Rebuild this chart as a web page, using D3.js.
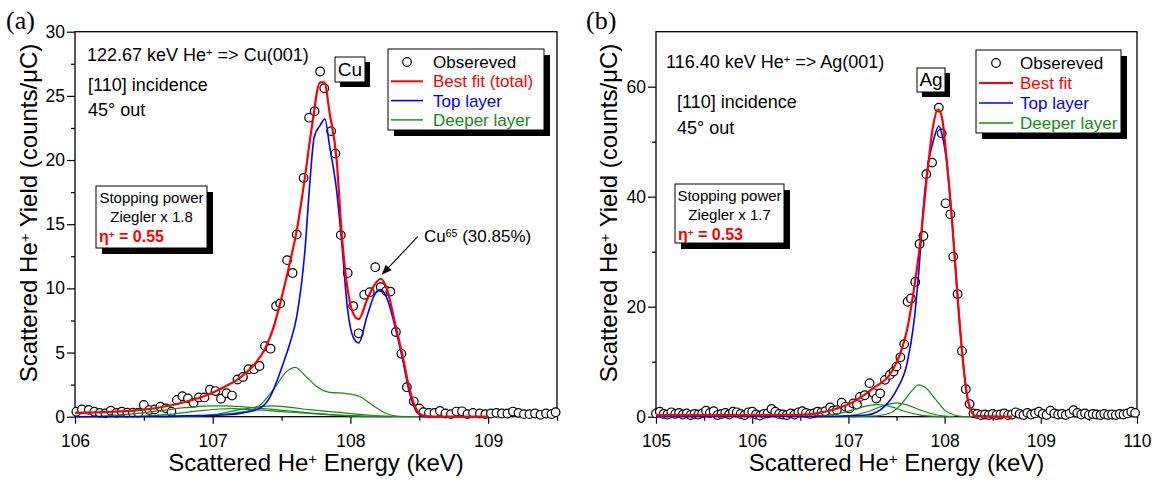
<!DOCTYPE html>
<html>
<head>
<meta charset="utf-8">
<script src="https://cdn.jsdelivr.net/npm/d3@7"></script>
<style>
    body { margin: 0; background: #fff; }
    svg text { font-family: "Liberation Sans", Arial, sans-serif; }
</style>
</head>
<body>
<div id="chart"></div>
<script>
// ---- (a) Cu(001) ----
const cuXTicks = [106, 107, 108, 109];
const cuXMinor = [106.5, 107.5, 108.5, 109.5];
const cuYTicks = [0, 5, 10, 15, 20, 25, 30];
const cuYMinor = [2.5, 7.5, 12.5, 17.5, 22.5, 27.5];

const cuObserved = [
    [106.01, 0.39], [106.05, 0.57], [106.10, 0.53], [106.14, 0.39], [106.18, 0.30], [106.22, 0.26],
    [106.26, 0.47], [106.30, 0.30], [106.34, 0.39], [106.38, 0.31], [106.42, 0.31], [106.46, 0.31],
    [106.50, 0.91], [106.54, 0.52], [106.58, 0.57], [106.62, 0.78], [106.66, 0.65], [106.70, 0.39],
    [106.74, 1.30], [106.78, 1.60], [106.82, 1.43], [106.86, 1.08], [106.90, 1.50], [106.94, 1.50],
    [106.98, 2.10], [107.02, 2.00], [107.06, 1.40], [107.10, 1.83], [107.14, 1.65], [107.18, 2.90],
    [107.22, 3.10], [107.26, 3.70], [107.30, 3.70], [107.34, 3.95], [107.38, 5.50], [107.42, 5.30],
    [107.46, 8.62], [107.49, 8.83], [107.54, 12.2], [107.58, 11.2], [107.61, 14.2], [107.66, 18.6],
    [107.70, 23.3], [107.74, 23.8], [107.78, 26.9], [107.81, 25.6], [107.86, 22.25], [107.89, 20.5],
    [107.93, 14.15], [107.98, 11.2], [108.02, 8.62], [108.06, 6.5], [108.10, 9.5], [108.14, 9.7],
    [108.18, 11.65], [108.22, 10.1], [108.26, 9.8], [108.29, 9.75], [108.33, 6.6], [108.37, 4.9],
    [108.41, 2.3], [108.46, 1.2], [108.50, 0.65], [108.53, 0.35], [108.57, 0.30], [108.61, 0.30],
    [108.65, 0.45], [108.69, 0.25], [108.73, 0.20], [108.77, 0.40], [108.81, 0.42], [108.85, 0.20],
    [108.89, 0.30], [108.94, 0.25], [108.98, 0.20], [109.02, 0.25], [109.06, 0.30], [109.10, 0.25],
    [109.14, 0.25], [109.18, 0.40], [109.22, 0.30], [109.26, 0.20], [109.30, 0.20], [109.34, 0.25],
    [109.38, 0.15], [109.42, 0.25], [109.46, 0.20], [109.49, 0.35]
];

const cuTotal = [
    [106.0, 0.3], [106.2, 0.35], [106.4, 0.45], [106.6, 0.7], [106.8, 1.15], [106.95, 1.65],
    [107.08, 2.3], [107.2, 3.05], [107.32, 4.3], [107.38, 5.3], [107.44, 6.9], [107.49, 8.85],
    [107.56, 12.0], [107.61, 14.5], [107.67, 18.7], [107.72, 22.6], [107.78, 26.05], [107.81, 26.05],
    [107.85, 23.6], [107.90, 20.0], [107.935, 14.5], [107.98, 9.9], [108.02, 8.05], [108.06, 7.6],
    [108.12, 9.1], [108.17, 10.2], [108.22, 10.75], [108.26, 10.1], [108.33, 7.0], [108.38, 4.7],
    [108.43, 2.1], [108.48, 0.55], [108.53, 0.08], [108.6, 0.0], [109.0, 0.0]
];

const cuTop = [
    [106.0, 0.0], [106.6, 0.02], [106.9, 0.08], [107.1, 0.15], [107.22, 0.3], [107.32, 0.55],
    [107.415, 1.5], [107.46, 2.6], [107.50, 3.8], [107.56, 5.7], [107.61, 7.8], [107.67, 13.0],
    [107.705, 18.2], [107.737, 21.8], [107.78, 22.7], [107.814, 23.2], [107.85, 21.0], [107.90, 17.6],
    [107.935, 13.8], [107.98, 8.3], [108.02, 6.2], [108.06, 5.75], [108.12, 7.8], [108.18, 9.6],
    [108.22, 9.9], [108.26, 9.35], [108.33, 6.75], [108.38, 4.4], [108.43, 1.8], [108.48, 0.4],
    [108.53, 0.0], [109.0, 0.0]
];

const cuDeeper = [
    [[106.6, 0.0], [106.8, 0.03], [107.0, 0.12], [107.2, 0.35], [107.32, 0.7], [107.44, 2.1],
     [107.54, 3.55], [107.60, 3.85], [107.68, 3.1], [107.75, 2.4], [107.85, 1.9], [107.97, 1.8],
     [108.07, 1.55], [108.16, 0.9], [108.26, 0.25], [108.35, 0.03], [108.5, 0.0]],
    [[106.0, 0.0], [106.2, 0.05], [106.4, 0.2], [106.6, 0.45], [106.8, 0.7], [107.0, 0.85],
     [107.1, 0.84], [107.3, 0.7], [107.5, 0.5], [107.7, 0.3], [107.9, 0.12], [108.1, 0.03], [108.3, 0.0]],
    [[106.3, 0.0], [106.5, 0.05], [106.7, 0.2], [106.9, 0.45], [107.05, 0.6], [107.15, 0.63],
     [107.3, 0.55], [107.5, 0.4], [107.7, 0.25], [107.9, 0.12], [108.1, 0.04], [108.3, 0.0]],
    [[106.6, 0.0], [106.8, 0.02], [107.0, 0.15], [107.2, 0.55], [107.35, 0.8], [107.42, 0.85],
     [107.55, 0.75], [107.7, 0.55], [107.9, 0.35], [108.1, 0.15], [108.3, 0.03], [108.45, 0.0]]
];

// ---- (b) Ag(001) ----
const agXTicks = [105, 106, 107, 108, 109, 110];
const agXMinor = [105.5, 106.5, 107.5, 108.5, 109.5];
const agYTicks = [0, 20, 40, 60];
const agYMinor = [10, 30, 50];

const agObserved = [
    [105.00, 0.6], [105.04, 0.9], [105.08, 0.5], [105.12, 0.4], [105.16, 0.8], [105.20, 0.5],
    [105.24, 0.7], [105.28, 0.4], [105.32, 0.6], [105.36, 0.3], [105.40, 0.5], [105.44, 0.4],
    [105.48, 0.6], [105.52, 1.1], [105.56, 0.7], [105.60, 1.0], [105.64, 0.3], [105.68, 0.5],
    [105.72, 0.7], [105.76, 0.4], [105.80, 0.9], [105.84, 0.8], [105.88, 0.5], [105.92, 0.3],
    [105.96, 0.8], [106.00, 0.9], [106.04, 0.4], [106.08, 0.2], [106.12, 0.5], [106.16, 0.6],
    [106.20, 1.4], [106.24, 0.9], [106.28, 0.5], [106.32, 0.4], [106.36, 0.3], [106.40, 0.6],
    [106.44, 0.4], [106.48, 0.8], [106.52, 1.0], [106.56, 0.7], [106.60, 0.5], [106.64, 0.6],
    [106.68, 0.9], [106.72, 0.8], [106.76, 1.0], [106.81, 1.7], [106.84, 1.1], [106.88, 1.2],
    [106.93, 2.55], [106.97, 1.8], [107.01, 1.5], [107.05, 2.4], [107.09, 2.2], [107.12, 3.6],
    [107.17, 3.9], [107.22, 6.1], [107.26, 4.3], [107.29, 3.3], [107.33, 4.25], [107.38, 6.7],
    [107.43, 7.6], [107.47, 8.2], [107.50, 9.1], [107.54, 10.8], [107.58, 13.2], [107.615, 20.9],
    [107.65, 21.5], [107.695, 24.5], [107.74, 31.4], [107.78, 32.85], [107.81, 44.1], [107.87, 46.2],
    [107.94, 56.2], [107.97, 51.5], [108.01, 38.8], [108.06, 36.8], [108.09, 29.1], [108.135, 22.3],
    [108.18, 11.95], [108.22, 5.0], [108.26, 2.3], [108.30, 0.6], [108.34, 0.5], [108.38, 0.3],
    [108.42, 0.4], [108.46, 0.3], [108.50, 0.5], [108.54, 0.3], [108.58, 0.4], [108.62, 0.6],
    [108.66, 0.3], [108.70, 0.4], [108.74, 0.8], [108.78, 0.5], [108.82, 0.3], [108.86, 0.7],
    [108.90, 0.4], [108.94, 0.6], [108.98, 0.9], [109.02, 0.5], [109.06, 0.3], [109.10, 1.1],
    [109.14, 0.6], [109.18, 0.4], [109.22, 0.5], [109.26, 0.3], [109.30, 0.6], [109.34, 1.2],
    [109.38, 0.7], [109.42, 0.4], [109.46, 0.6], [109.50, 0.3], [109.54, 0.5], [109.58, 0.4],
    [109.62, 0.3], [109.66, 0.5], [109.70, 0.3], [109.74, 0.4], [109.78, 0.3], [109.82, 0.5],
    [109.86, 0.4], [109.90, 0.6], [109.94, 0.9], [109.98, 0.7]
];

const agTotal = [
    [105.0, 0.3], [106.0, 0.3], [106.5, 0.35], [106.7, 0.7], [106.85, 1.3], [107.05, 2.7],
    [107.26, 5.2], [107.44, 7.9], [107.54, 11.5], [107.61, 15.8], [107.68, 23.0], [107.75, 32.1],
    [107.82, 44.3], [107.885, 53.3], [107.93, 55.9], [107.97, 54.6], [108.02, 47.0], [108.08, 35.0],
    [108.13, 23.0], [108.18, 12.1], [108.23, 4.2], [108.28, 0.9], [108.33, 0.1], [108.7, 0.0]
];

const agTop = [
    [105.0, 0.0], [106.8, 0.05], [107.0, 0.15], [107.19, 0.3], [107.3, 0.9], [107.37, 1.8],
    [107.5, 4.85], [107.61, 9.7], [107.68, 17.0], [107.73, 26.0], [107.78, 38.2], [107.83, 46.0],
    [107.885, 50.3], [107.94, 52.85], [107.97, 51.5], [108.02, 46.5], [108.08, 35.0], [108.13, 23.0],
    [108.18, 12.1], [108.23, 4.2], [108.28, 0.9], [108.33, 0.1], [108.6, 0.0]
];

const agDeeper = [
    [[106.9, 0.0], [107.3, 0.15], [107.45, 0.8], [107.55, 2.3], [107.65, 4.5], [107.73, 5.8],
     [107.8, 5.3], [107.9, 3.3], [108.0, 1.2], [108.1, 0.3], [108.2, 0.02], [108.3, 0.0]],
    [[106.4, 0.0], [106.8, 0.05], [107.0, 0.2], [107.2, 0.9], [107.35, 1.9], [107.5, 2.5],
     [107.6, 2.2], [107.75, 1.2], [107.9, 0.4], [108.0, 0.1], [108.1, 0.0]],
    [[105.7, 0.0], [106.5, 0.05], [106.8, 0.3], [107.0, 1.0], [107.15, 1.8], [107.3, 2.2],
     [107.45, 1.8], [107.6, 0.9], [107.75, 0.3], [107.9, 0.05], [108.0, 0.0]]
];

const width = 1160;
const height = 483;

const svg = d3.select("#chart")
    .append("svg")
    .attr("width", width)
    .attr("height", height);

// text with superscript parts: parts = [[text, isSup], ...]
function richText(sel, parts) {
    parts.forEach(([t, sup], i) => {
        const ts = sel.append("tspan").text(t);
        if (sup) ts.attr("dy", "-0.45em").attr("font-size", "0.62em");
        else if (i > 0 && parts[i - 1][1]) ts.attr("dy", "0.28em");
    });
    return sel;
}

function boxWithShadow(g, x, y, w, h, off) {
    g.append("rect").attr("x", x + off).attr("y", y + off).attr("width", w).attr("height", h).attr("fill", "#000");
    g.append("rect").attr("x", x).attr("y", y).attr("width", w).attr("height", h)
        .attr("fill", "#fff").attr("stroke", "#000").attr("stroke-width", 1);
}

function drawPanel(p) {
    const x = d3.scaleLinear().domain(p.xDomain).range([p.left, p.right]);
    const y = d3.scaleLinear().domain(p.yDomain).range([p.bottom, p.top]);
    const g = svg.append("g");

    // panel letter
    g.append("text").attr("x", p.letterX).attr("y", 29)
        .style("font-family", "'Liberation Serif', 'Times New Roman', serif")
        .attr("font-size", 26).text(p.letter);

    // minor ticks
    g.append("g").attr("transform", `translate(0,${p.bottom})`)
        .call(d3.axisBottom(x).tickValues(p.xMinor).tickSize(4).tickFormat(""))
        .call(s => s.select(".domain").remove());
    g.append("g").attr("transform", `translate(${p.left},0)`)
        .call(d3.axisLeft(y).tickValues(p.yMinor).tickSize(4).tickFormat(""))
        .call(s => s.select(".domain").remove());

    // major ticks
    const xa = g.append("g").attr("transform", `translate(0,${p.bottom})`)
        .call(d3.axisBottom(x).tickValues(p.xTicks).tickSize(7).tickPadding(11).tickFormat(d3.format("d")));
    const ya = g.append("g").attr("transform", `translate(${p.left},0)`)
        .call(d3.axisLeft(y).tickValues(p.yTicks).tickSize(8).tickPadding(2).tickFormat(d3.format("d")));
    [xa, ya].forEach(a => {
        a.select(".domain").remove();
        a.selectAll("text").attr("font-size", 17.5).attr("fill", "#000")
            .style("font-family", "'Liberation Sans', Arial, sans-serif");
    });
    g.selectAll(".tick line").attr("stroke", "#000").attr("stroke-width", 1.2);

    // frame
    g.append("rect")
        .attr("x", p.left).attr("y", p.top)
        .attr("width", p.right - p.left).attr("height", p.bottom - p.top)
        .attr("fill", "none").attr("stroke", "#000").attr("stroke-width", 1.3);

    // axis titles
    richText(g.append("text")
        .attr("x", (p.left + p.right) / 2).attr("y", 471)
        .attr("text-anchor", "middle").attr("font-size", 24),
        [["Scattered He", false], ["+", true], [" Energy (keV)", false]]);
    richText(g.append("text")
        .attr("transform", `translate(${p.yTitleX},213) rotate(-90)`)
        .attr("text-anchor", "middle").attr("font-size", 24),
        [["Scattered He", false], ["+", true], [" Yield (counts/\u03BCC)", false]]);

    const line = d3.line().x(d => x(d[0])).y(d => y(d[1])).curve(d3.curveMonotoneX);

    // observed points
    g.append("g").selectAll("circle").data(p.observed).join("circle")
        .attr("cx", d => x(d[0])).attr("cy", d => y(d[1])).attr("r", 4.3)
        .attr("fill", "#fff").attr("stroke", "#000").attr("stroke-width", 1.2);

    // fits
    g.append("g").selectAll("path").data(p.deeper).join("path")
        .attr("d", line).attr("fill", "none").attr("stroke", "#168a16").attr("stroke-width", 1.2);
    g.append("path").datum(p.topLayer).attr("d", line)
        .attr("fill", "none").attr("stroke", "#0000ff").attr("stroke-width", 1.6);
    g.append("path").datum(p.total).attr("d", line)
        .attr("fill", "none").attr("stroke", "#ff0000").attr("stroke-width", 2.2);

    return { g, x, y };
}

function drawAnnotations(g, a) {
    // condition text
    richText(g.append("text").attr("x", a.condX).attr("y", a.condY[0]).attr("font-size", 18),
        [[a.energy + " keV He", false], ["+", true], [" => " + a.target, false]]);
    g.append("text").attr("x", a.condX2).attr("y", a.condY[1]).attr("font-size", 18).text("[110] incidence");
    g.append("text").attr("x", a.condX2).attr("y", a.condY[2]).attr("font-size", 18).text("45\u00B0 out");

    // element box
    boxWithShadow(g, a.elBox[0], a.elBox[1], a.elBox[2], a.elBox[3], 5);
    g.append("text").attr("x", a.elBox[0] + a.elBox[2] / 2).attr("y", a.elBox[1] + a.elBox[3] - 6)
        .attr("text-anchor", "middle").attr("font-size", 19).text(a.element);

    // legend
    const [lx, ly, lw, lh] = a.legBox;
    boxWithShadow(g, lx, ly, lw, lh, 6);
    const rows = [
        { label: "Obsereved", color: "#000", type: "circle" },
        { label: a.fitLabel, color: "#ff0000", type: "line", w: 2 },
        { label: "Top layer", color: "#0000ff", type: "line", w: 1.6 },
        { label: "Deeper layer", color: "#168a16", type: "line", w: 1.4 }
    ];
    rows.forEach((r, i) => {
        const cy = ly + 13 + i * a.legStep;
        if (r.type === "circle") {
            g.append("circle").attr("cx", lx + a.legSym).attr("cy", cy).attr("r", 4.3)
                .attr("fill", "#fff").attr("stroke", "#000").attr("stroke-width", 1.2);
        } else {
            g.append("line").attr("x1", lx + 3).attr("x2", lx + a.legSym * 2 - 3)
                .attr("y1", cy).attr("y2", cy).attr("stroke", r.color).attr("stroke-width", r.w);
        }
        g.append("text").attr("x", lx + a.legText).attr("y", cy + 6)
            .attr("font-size", 17).attr("fill", r.color).text(r.label);
    });

    // stopping power box
    const [sx, sy, sw, sh] = a.spBox;
    boxWithShadow(g, sx, sy, sw, sh, 6);
    g.append("text").attr("x", sx + sw / 2).attr("y", sy + 17).attr("text-anchor", "middle")
        .attr("font-size", 15).text("Stopping power");
    g.append("text").attr("x", sx + sw / 2).attr("y", sy + 36).attr("text-anchor", "middle")
        .attr("font-size", 15).text("Ziegler x " + a.ziegler);
    richText(g.append("text").attr("x", sx + 3).attr("y", sy + 56).attr("font-size", 16)
        .attr("font-weight", "bold").attr("fill", "#ff0000"),
        [["\u03B7", false], ["+", true], [" = " + a.eta, false]]);
}

// (a)
const pa = drawPanel({
    letter: "(a)", letterX: 6,
    left: 75, right: 557, top: 31.7, bottom: 416.7,
    xDomain: [106, 109.5], yDomain: [0, 30],
    xTicks: cuXTicks, xMinor: cuXMinor, yTicks: cuYTicks, yMinor: cuYMinor,
    yTitleX: 37,
    observed: cuObserved, total: cuTotal, topLayer: cuTop, deeper: cuDeeper
});
drawAnnotations(pa.g, {
    energy: "122.67", target: "Cu(001)", element: "Cu",
    condX: 87, condX2: 88, condY: [61, 91, 116],
    elBox: [335, 57, 30, 25],
    legBox: [388, 49, 156, 81], legSym: 19, legText: 45, legStep: 19.3,
    fitLabel: "Best fit (total)",
    spBox: [96, 186, 111, 62], ziegler: "1.8", eta: "0.55"
});
// Cu65 arrow annotation
(function () {
    const g = pa.g;
    richText(g.append("text").attr("x", 424).attr("y", 242).attr("font-size", 17),
        [["Cu", false], ["65", true], [" (30.85%)", false]]);
    const x1 = 417.7, y1 = 236.7, x2 = pa.x(108.22) + 1, y2 = pa.y(10.75) - 4;
    const ang = Math.atan2(y2 - y1, x2 - x1);
    g.append("line").attr("x1", x1).attr("y1", y1)
        .attr("x2", x2 - 7 * Math.cos(ang)).attr("y2", y2 - 7 * Math.sin(ang))
        .attr("stroke", "#000").attr("stroke-width", 1.1);
    const hl = 10, hw = 4;
    const bx = x2 - hl * Math.cos(ang), by = y2 - hl * Math.sin(ang);
    g.append("path")
        .attr("d", `M${x2},${y2}L${bx + hw * Math.sin(ang)},${by - hw * Math.cos(ang)}L${bx - hw * Math.sin(ang)},${by + hw * Math.cos(ang)}Z`)
        .attr("fill", "#000");
})();

// (b)
const pb = drawPanel({
    letter: "(b)", letterX: 586,
    left: 656, right: 1137, top: 31.7, bottom: 416.7,
    xDomain: [105, 110], yDomain: [0, 70],
    xTicks: agXTicks, xMinor: agXMinor, yTicks: agYTicks, yMinor: agYMinor,
    yTitleX: 617,
    observed: agObserved, total: agTotal, topLayer: agTop, deeper: agDeeper
});
drawAnnotations(pb.g, {
    energy: "116.40", target: "Ag(001)", element: "Ag",
    condX: 666, condX2: 677, condY: [68, 108, 134],
    elBox: [917, 68, 28, 24],
    legBox: [976, 50, 145, 83], legSym: 20, legText: 44, legStep: 20,
    fitLabel: "Best fit",
    spBox: [675, 184, 109, 59], ziegler: "1.7", eta: "0.53"
});
</script>
</body>
</html>
